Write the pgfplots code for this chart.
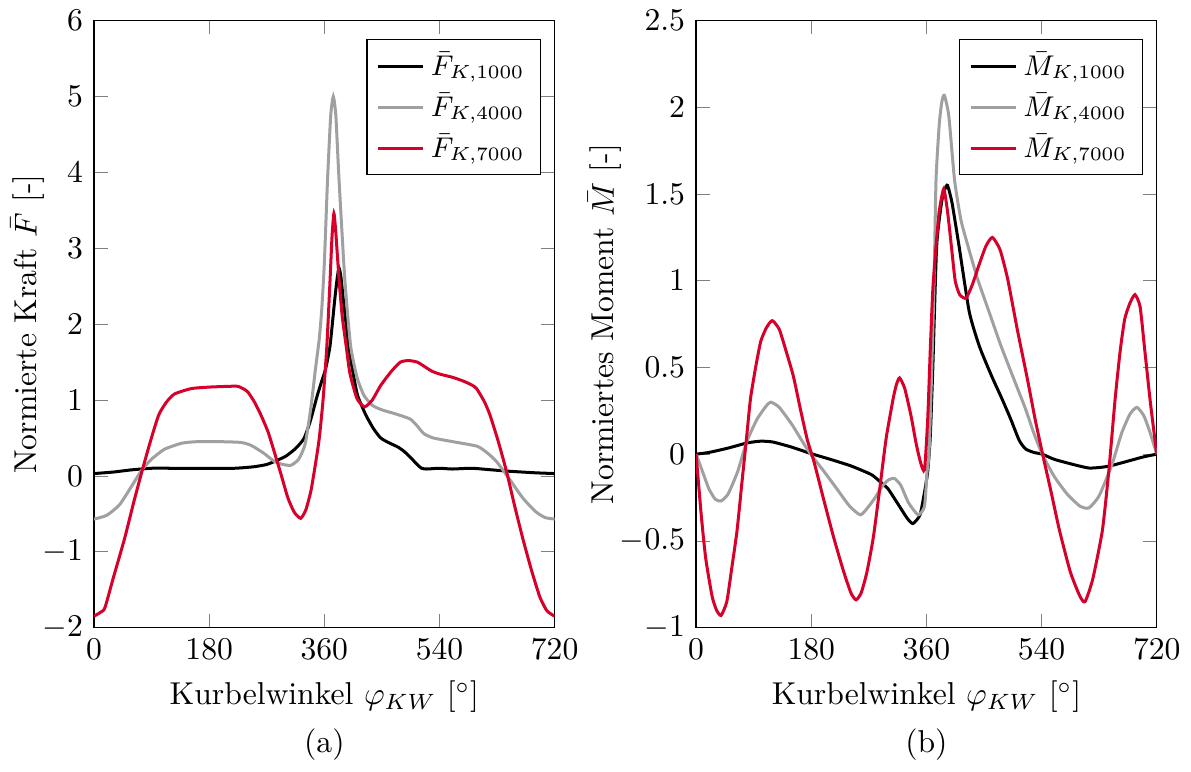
\documentclass[border=0pt,10pt]{standalone}
\usepackage{pgfplots}
\pgfplotsset{compat=1.18}
\definecolor{myred}{RGB}{214,0,42}
\definecolor{mygray}{RGB}{160,160,160}
\begin{document}
\begin{tikzpicture}
\pgfplotsset{
  every axis/.append style={
    scale only axis,
    width=145.6pt, height=191.8pt,
    xmin=0, xmax=720,
    xtick={0,180,360,540,720},
    xlabel={Kurbelwinkel $\varphi_{KW}$ [$^\circ$]},
    ylabel shift=-7.5pt,
    legend pos=north east,
    legend cell align=left,
    legend style={font=\small},
    legend image code/.code={\draw[#1] (0cm,0cm) -- (0.5cm,0cm);},
  },
  every axis plot/.append style={line width=0.95pt, no markers, smooth, tension=0.35},
}
\begin{axis}[
  ymin=-2, ymax=6,
  ytick={-2,-1,0,1,2,3,4,5,6},
  ylabel={Normierte Kraft $\bar{F}$ [-]},
]
\addplot[black] coordinates {
(0,0.03)(30,0.05)(60,0.08)(90,0.1)(120,0.1)(180,0.1)(220,0.1)(250,0.12)(270,0.15)(285,0.2)(300,0.26)(315,0.36)(328,0.49)(338,0.72)(349,1.06)(356,1.25)(362,1.41)(369,1.72)(376,2.3)(380,2.6)(383,2.74)(386,2.62)(390,2.3)(398,1.72)(405,1.35)(412,1.06)(425,0.8)(437,0.62)(448,0.5)(460,0.44)(475,0.38)(485,0.32)(495,0.24)(505,0.15)(512,0.1)(520,0.09)(540,0.1)(560,0.09)(590,0.1)(620,0.08)(650,0.06)(690,0.04)(720,0.03)
};
\addlegendentry{$\bar{F}_{K,1000}$}
\addplot[mygray] coordinates {
(0,-0.57)(20,-0.52)(40,-0.38)(60,-0.12)(75,0.08)(90,0.22)(110,0.35)(137,0.43)(160,0.45)(200,0.45)(230,0.44)(246,0.4)(265,0.3)(282,0.19)(295,0.15)(308,0.14)(320,0.22)(330,0.42)(339,0.9)(346,1.4)(352,1.8)(356,2.2)(360,2.8)(365,3.9)(370,4.75)(374,5.0)(378,4.75)(383,3.9)(392,2.59)(401,1.72)(411,1.3)(422,1.06)(435,0.93)(450,0.87)(470,0.82)(494,0.75)(505,0.66)(515,0.56)(530,0.5)(561,0.45)(599,0.39)(615,0.3)(629,0.19)(650,-0.05)(670,-0.29)(690,-0.47)(705,-0.55)(720,-0.57)
};
\addlegendentry{$\bar{F}_{K,4000}$}
\addplot[myred] coordinates {
(0,-1.85)(10,-1.8)(17,-1.74)(30,-1.35)(48,-0.82)(62,-0.35)(75,0.06)(88,0.45)(101,0.8)(113,0.97)(126,1.08)(152,1.15)(180,1.17)(210,1.18)(225,1.18)(235,1.14)(241,1.1)(251,0.97)(261,0.8)(272,0.58)(282,0.31)(293,0.0)(303,-0.29)(313,-0.48)(323,-0.56)(331,-0.45)(339,-0.2)(346,0.15)(352,0.49)(358,1.0)(364,1.72)(369,2.59)(372,3.15)(375,3.46)(378,3.2)(383,2.59)(388,2.1)(394,1.72)(400,1.35)(411,1.02)(423,0.91)(435,1.0)(448,1.19)(465,1.38)(479,1.5)(492,1.52)(505,1.5)(515,1.45)(528,1.38)(541,1.34)(560,1.3)(577,1.25)(590,1.2)(598,1.15)(610,0.98)(619,0.8)(632,0.45)(645,0.05)(657,-0.38)(670,-0.82)(684,-1.25)(697,-1.6)(708,-1.78)(720,-1.85)
};
\addlegendentry{$\bar{F}_{K,7000}$}
\end{axis}
\node at (72.8pt,-37.1pt) {(a)};
\begin{axis}[
  at={(190.3pt,0pt)},
  ymin=-1, ymax=2.5,
  ytick={-1,-0.5,0,0.5,1,1.5,2,2.5},
  ylabel={Normiertes Moment $\bar{M}$ [-]},
]
\addplot[black] coordinates {
(0,0)(20,0.01)(50,0.035)(80,0.065)(101,0.075)(120,0.07)(150,0.04)(179,0.004)(210,-0.03)(240,-0.065)(257,-0.09)(275,-0.12)(288,-0.16)(300,-0.2)(316,-0.29)(330,-0.37)(339,-0.4)(350,-0.35)(357,-0.22)(362,-0.1)(366,0.1)(370,0.5)(376,1.2)(384,1.46)(389,1.53)(393,1.55)(400,1.45)(411,1.2)(427,0.82)(443,0.62)(462,0.45)(478,0.32)(492,0.2)(505,0.08)(515,0.03)(528,0.01)(541,0.0)(560,-0.03)(590,-0.06)(614,-0.08)(635,-0.075)(650,-0.065)(680,-0.035)(700,-0.015)(720,0)
};
\addlegendentry{$\bar{M}_{K,1000}$}
\addplot[mygray] coordinates {
(0,0)(10,-0.1)(20,-0.2)(30,-0.26)(39,-0.27)(50,-0.23)(65,-0.1)(79,0.07)(95,0.2)(110,0.28)(117,0.3)(130,0.27)(150,0.17)(165,0.08)(179,0.0)(200,-0.1)(220,-0.2)(240,-0.3)(257,-0.35)(270,-0.3)(280,-0.25)(290,-0.19)(300,-0.15)(310,-0.14)(320,-0.18)(332,-0.28)(347,-0.35)(357,-0.3)(361,-0.1)(364,0.0)(368,0.45)(372,1.0)(375,1.58)(380,1.9)(384,2.03)(388,2.07)(395,1.95)(404,1.58)(414,1.35)(425,1.2)(440,1.01)(458,0.82)(476,0.63)(497,0.43)(515,0.26)(528,0.12)(541,0.0)(560,-0.13)(580,-0.23)(600,-0.3)(614,-0.31)(630,-0.24)(650,-0.06)(665,0.12)(678,0.23)(689,0.27)(700,0.22)(710,0.12)(720,0)
};
\addlegendentry{$\bar{M}_{K,4000}$}
\addplot[myred] coordinates {
(0,0)(8,-0.35)(15,-0.6)(25,-0.82)(32,-0.9)(39,-0.93)(48,-0.85)(56,-0.65)(64,-0.44)(72,-0.15)(79,0.1)(85,0.32)(93,0.5)(101,0.65)(110,0.73)(119,0.77)(130,0.72)(141,0.59)(152,0.45)(163,0.26)(174,0.08)(184,-0.04)(200,-0.27)(215,-0.48)(230,-0.67)(242,-0.8)(250,-0.84)(258,-0.8)(267,-0.68)(277,-0.48)(287,-0.2)(297,0.09)(308,0.32)(313,0.4)(318,0.44)(326,0.38)(336,0.22)(344,0.06)(351,-0.05)(357,-0.09)(362,0.2)(366,0.6)(370,0.95)(375,1.2)(380,1.4)(387,1.53)(393,1.4)(399,1.2)(405,1.0)(412,0.92)(422,0.9)(432,0.98)(443,1.1)(453,1.2)(463,1.25)(475,1.18)(487,1.01)(502,0.72)(518,0.43)(530,0.2)(541,0.01)(555,-0.22)(568,-0.44)(585,-0.68)(600,-0.82)(608,-0.85)(620,-0.72)(635,-0.44)(645,-0.1)(655,0.32)(663,0.6)(670,0.78)(678,0.87)(686,0.92)(694,0.85)(701,0.61)(710,0.3)(720,0)
};
\addlegendentry{$\bar{M}_{K,7000}$}
\end{axis}
\node at (263.1pt,-37.1pt) {(b)};
\end{tikzpicture}
\end{document}
